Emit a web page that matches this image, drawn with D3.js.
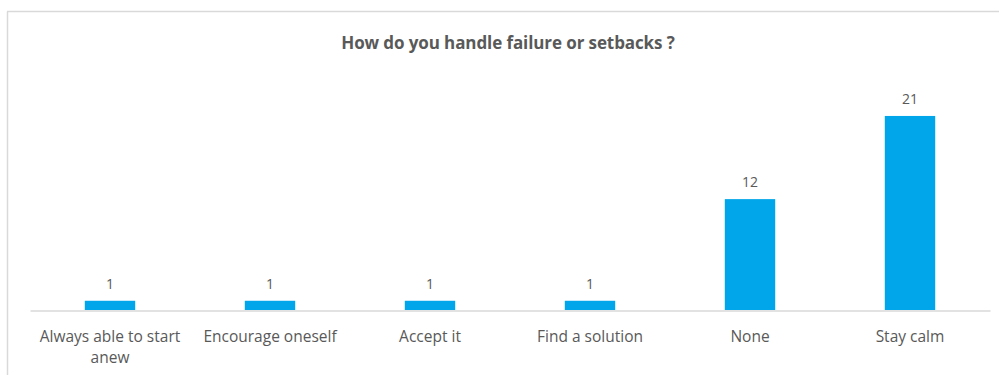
<!DOCTYPE html>
<html><head><meta charset="utf-8">
<script src="https://cdn.jsdelivr.net/npm/d3@7"></script>
<style>html,body{margin:0;padding:0;background:#fff;}svg{display:block;}</style>
</head><body>
<svg id="c" width="999" height="375"></svg>
<script>
const categories = ["Always able to start anew", "Encourage oneself", "Accept it", "Find a solution", "None", "Stay calm"];
const values = [1, 1, 1, 1, 12, 21];
const title = "How do you handle failure or setbacks ?";

const svg = d3.select("#c");
const W = 999, H = 375;
const font = "'Open Sans', 'Noto Sans', sans-serif";
const textColor = "#595959";

// chart border
svg.append("line").attr("x1", 7.5).attr("x2", 7.5).attr("y1", 11.5).attr("y2", H).attr("stroke", "#d9d9d9").attr("stroke-width", 1.5);
svg.append("line").attr("x1", 7).attr("x2", W).attr("y1", 11.5).attr("y2", 11.5).attr("stroke", "#d9d9d9").attr("stroke-width", 1.5);

const x = d3.scaleBand().domain(categories).range([30, 990]).paddingInner(0.685).paddingOuter(0.3425);
const y = d3.scaleLinear().domain([0, 25]).range([310, 79]);

svg.append("text").attr("x", 508).attr("y", 49).attr("text-anchor", "middle")
  .attr("font-family", font).attr("font-weight", "700").attr("font-size", 17).attr("fill", textColor)
  .attr("letter-spacing", -0.1).text(title);

svg.append("g").selectAll("rect").data(values).join("rect")
  .attr("x", (d, i) => x(categories[i]))
  .attr("width", x.bandwidth())
  .attr("y", d => y(d))
  .attr("height", d => y(0) - y(d))
  .attr("fill", "#00a6e9");

// axis
const axis = d3.axisBottom(x).tickSize(0).tickSizeOuter(0).tickFormat("");
const ag = svg.append("g").attr("transform", `translate(0,${y(0) + 0.5})`).call(axis);
ag.select(".domain").attr("stroke", "#d9d9d9").attr("stroke-width", 1.3);

// category labels (wrapped)
const wrapLines = {"Always able to start anew": ["Always able to start", "anew"]};
const lbl = svg.append("g").selectAll("text").data(categories).join("text")
  .attr("x", d => x(d) + x.bandwidth() / 2)
  .attr("y", 342)
  .attr("text-anchor", "middle")
  .attr("font-family", font).attr("font-size", 15.5).attr("fill", textColor)
  .attr("letter-spacing", 0);
lbl.each(function(d) {
  const lines = wrapLines[d] || [d];
  d3.select(this).selectAll("tspan").data(lines).join("tspan")
    .attr("x", x(d) + x.bandwidth() / 2)
    .attr("dy", (l, j) => j === 0 ? 0 : 21)
    .text(l => l);
});

// value labels
svg.append("g").selectAll("text").data(values).join("text")
  .attr("x", (d, i) => x(categories[i]) + x.bandwidth() / 2)
  .attr("y", d => y(d) - 12)
  .attr("text-anchor", "middle")
  .attr("font-family", font).attr("font-size", 14).attr("fill", textColor)
  .text(d => d);
</script>
</body></html>
